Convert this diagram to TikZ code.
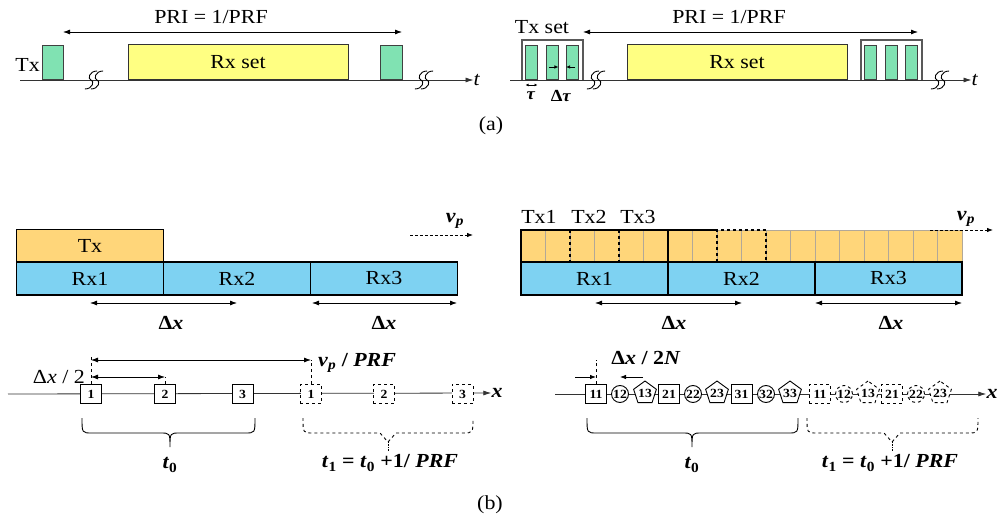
\documentclass[tikz,border=0pt]{standalone}
\usepackage{fontspec}
\setmainfont{Liberation Serif}[FakeStretch=1.1]
\usetikzlibrary{arrows.meta,positioning,shapes.geometric,calc}
\definecolor{pulsegreen}{RGB}{128,226,178}
\definecolor{rxyellow}{RGB}{255,255,130}
\definecolor{txorange}{RGB}{255,214,122}
\definecolor{rxblue}{RGB}{126,210,242}
\definecolor{cellgrey}{RGB}{178,168,152}

\begin{document}
\begin{tikzpicture}[x=1bp,y=-1bp,
  lbl/.style={font=\fontsize{20}{24}\selectfont,inner sep=0pt},
  tiny/.style={font=\fontsize{12.5}{14}\selectfont\bfseries,inner sep=0pt},
  pulse/.style={draw=black!75,fill=pulsegreen,line width=0.9pt,inner sep=0pt,
    minimum width=#1,minimum height=34bp,anchor=south},
  pulse/.default=21bp,
  rxset/.style={draw=black!80,fill=rxyellow,line width=0.9pt,lbl,
    minimum width=220bp,minimum height=35bp,anchor=south},
  txframe/.style={draw=black!65,line width=1.2pt},
  band/.style={draw=black,line width=1.3pt,lbl,minimum width=147bp,minimum height=33bp},
  dim/.style={{Latex[length=7bp,width=5bp]}-{Latex[length=7bp,width=5bp]},line width=0.8pt},
  tip/.style={-{Latex[length=6bp,width=4.5bp]},line width=0.8pt},
  lead/.style={dashed,line width=0.7pt},
  axisline/.style={-{Latex[length=8bp,width=5bp]},line width=0.8pt,black!80},
  sqmark/.style={draw,line width=0.9pt,fill=white,tiny,minimum width=21bp,minimum height=19bp},
  cimark/.style={circle,draw,line width=0.9pt,fill=white,tiny,minimum size=17bp},
  pemark/.style={regular polygon,regular polygon sides=5,draw,line width=0.9pt,fill=white,tiny,minimum size=21bp},
  pics/axbreak/.style={code={
    \foreach \d in {-3,3}
      \draw[line width=0.9pt,xshift=\d bp,xslant=0.35] (3,-9) .. controls (-5,-9) and (-4,-1) .. (0,0)
        .. controls (4,1) and (5,9) .. (-3,9);
  }}
]
  \useasboundingbox (0,0) rectangle (1002,525);

  % (a) single pulse timing
  \node[lbl] (ta) at (477,80) {\textit{t}};
  \draw[axisline] (20,80) -- (ta.west);
  \node[lbl,anchor=east] (txa) at (40,65) {Tx};
  \node[pulse] (txa1) at (52.5,80) {};
  \node[rxset] (rxa) at (238,80) {Rx set};
  \node[pulse=22bp] (txa2) at (391,80) {};
  \pic at (94,80) {axbreak};
  \pic at (424,80) {axbreak};
  \coordinate (pria) at (63,32);
  \coordinate (prib) at (402,32);
  \draw[dim] (pria) -- (prib);
  \node[lbl] (pri1) at (211,17) {PRI = 1/PRF};

  % (a) pulse set timing
  \node[lbl] (tb) at (975,80) {\textit{t}};
  \draw[axisline] (510,80) -- (tb.west);
  \foreach \s/\x in {a/522,b/861}{
    \draw[txframe] (\x,80) -- (\x,40) -- ++(61,0) -- ++(0,40);
    \foreach \k/\dx in {1/9.5,2/30,3/50.5}
      \node[pulse=12bp] (p\s\k) at (\x+\dx,80) {};
  }
  \node[lbl] (txset) at (542,27) {Tx set};
  \node[rxset] (rxb) at (737,80) {Rx set};
  \pic at (596,80) {axbreak};
  \pic at (940,80) {axbreak};
  \coordinate (tauL) at (525.5,85);
  \coordinate (tauR) at (537.5,85);
  \draw[{Latex[length=3bp,width=3bp]}-{Latex[length=3bp,width=3bp]},line width=0.6pt] (tauL) -- (tauR);
  \node[font=\fontsize{17}{20}\selectfont,inner sep=0pt] (tau) at (531,96) {\textbf{\textit{τ}}};
  \node[font=\fontsize{17}{20}\selectfont,inner sep=0pt] (dtau) at (561,96) {\textbf{Δ\textit{τ}}};
  \draw[-{Latex[length=4bp,width=3.5bp]},line width=0.7pt] (549,67) -- (pa2.east |- 0,67);
  \draw[-{Latex[length=4bp,width=3.5bp]},line width=0.7pt] (575,67) -- (pa3.west |- 0,67);
  \coordinate (pric) at (583,32);
  \coordinate (prid) at (918,32);
  \draw[dim] (pric) -- (prid);
  \node[lbl] (pri2) at (729,17) {PRI = 1/PRF};
  \node[lbl] (capa) at (491,126) {(a)};

  % (b) single aperture
  \node[band,fill=txorange] (tx) at (90,246) {Tx};
  \foreach \k/\x in {1/90,2/237,3/384}
    \node[band,fill=rxblue] (rx\k) at (\x,278.5) {Rx\k};
  \node[lbl] (vp1) at (455,221) {\textbf{\textit{v}}\textsubscript{\textbf{\textit{p}}}};
  \draw[densely dashed,tip] (410,235) -- (473,235);
  \draw[dim] (90,303) -- (237,303);
  \draw[dim] (312,303) -- (457,303);
  \node[lbl] (dx1) at (171,323) {\textbf{Δ\textit{x}}};
  \node[lbl] (dx2) at (384,323) {\textbf{Δ\textit{x}}};

  % (b) multiple sub-apertures
  \foreach \i in {0,...,17}
    \draw[cellgrey,fill=txorange,line width=0.8pt] (521+24.5*\i,230) rectangle ++(24.5,32);
  \draw[line width=1.3pt] (521,262) -- (521,230) -- (717,230);
  \draw[line width=1.6pt] (668,230) -- (668,262);
  \draw[dashed,line width=1.2pt] (570,230) -- (570,262) (619,230) -- (619,262);
  \draw[dashed,line width=1.2pt] (717,262) -- (717,230) -- (766,230) -- (766,262);
  \foreach \k/\x in {1/594.5,2/741.5,3/888.5}
    \node[band,fill=rxblue] (ry\k) at (\x,278.5) {Rx\k};
  \foreach \k/\x in {1/539,2/589,3/638}
    \node[lbl] (txl\k) at (\x,217) {Tx\k};
  \node[lbl] (vp2) at (966,219) {\textbf{\textit{v}}\textsubscript{\textbf{\textit{p}}}};
  \draw[densely dashed,tip] (930,230) -- (993,230);
  \draw[dim] (595,303) -- (742,303);
  \draw[dim] (815,303) -- (962,303);
  \node[lbl] (dx3) at (674,323) {\textbf{Δ\textit{x}}};
  \node[lbl] (dx4) at (891,323) {\textbf{Δ\textit{x}}};

  % (b) sampling positions, single aperture
  \node[lbl] (xa) at (497,393) {\textbf{\textit{x}}};
  \draw[axisline] (8,394) -- (xa.west);
  \foreach \k/\x in {1/91,2/165,3/242.5}
    \node[sqmark] (b\k) at (\x,394) {\k};
  \foreach \k/\x in {1/311,2/384,3/462.5}
    \node[sqmark,dashed] (d\k) at (\x,394) {\k};
  \draw[lead] (b1.north) -- (91,356);
  \draw[lead] (d1.north) -- (311,360);
  \draw[lead] (b2.north) -- (165,377);
  \draw[dim] (91,360) -- (311,360);
  \draw[dim] (91,377) -- (165,377);
  \node[lbl,anchor=east] (dxh) at (85,377) {Δ\textit{x} / 2};
  \node[lbl,anchor=west] (vpf) at (318,363) {\textbf{\textit{v}\textsubscript{\textit{p}} / \textit{PRF}}};
  \draw[line width=0.9pt] (82,418) .. controls (82,433) .. (92,433) -- (160,433)
    .. controls (170,433) .. (170,447) .. controls (170,433) .. (180,433) -- (245,433)
    .. controls (255,433) .. (255,418);
  \draw[lead,line width=0.9pt] (303,418) .. controls (303,433) .. (313,433) -- (380,433)
    -- (388,442) -- (396,433) -- (463,433) .. controls (473,433) .. (473,418);
  \draw[densely dotted,line width=0.7pt] (388,442) -- (388,451);
  \node[lbl] (t0a) at (170,465) {\textbf{\textit{t}\textsubscript{0}}};
  \node[lbl] (t1a) at (390,463) {\textbf{\textit{t}\textsubscript{1} = \textit{t}\textsubscript{0} +1/ \textit{PRF}}};

  % (b) sampling positions, sub-apertures
  \node[lbl] (xb) at (992,394) {\textbf{\textit{x}}};
  \draw[axisline] (555,394) -- (xb.west);
  \foreach \n/\x in {11/596,21/669,31/741.5}
    \node[sqmark] (s\n) at (\x,394) {\n};
  \foreach \n/\x in {12/620,22/693,32/766}
    \node[cimark] (s\n) at (\x,394) {\n};
  \foreach \n/\x in {13/645,23/717,33/790}
    \node[pemark] (s\n) at (\x,393) {\n};
  \foreach \n/\x in {11/820,21/892}
    \node[sqmark,dashed] (e\n) at (\x,394) {\n};
  \foreach \n/\x in {12/844,22/916}
    \node[cimark,dashed] (e\n) at (\x,394) {\n};
  \foreach \n/\x in {13/868,23/940}
    \node[pemark,dashed] (e\n) at (\x,393) {\n};
  \draw[lead] (s11.north) -- (596,360);
  \draw[tip] (575,377) -- (596,377);
  \draw[tip] (643,377) -- (s12.center |- 0,377);
  \node[lbl] (dxn) at (646,358) {\textbf{Δ\textit{x} / 2\textit{N}}};
  \draw[line width=0.9pt] (587,418) .. controls (587,433) .. (597,433) -- (682,433)
    .. controls (692,433) .. (692,447) .. controls (692,433) .. (702,433) -- (788,433)
    .. controls (798,433) .. (798,418);
  \draw[lead,line width=0.9pt] (807,418) .. controls (807,433) .. (817,433) -- (884,433)
    -- (892,442) -- (900,433) -- (968,433) .. controls (978,433) .. (978,418);
  \draw[densely dotted,line width=0.7pt] (892,442) -- (892,451);
  \node[lbl] (t0b) at (692,465) {\textbf{\textit{t}\textsubscript{0}}};
  \node[lbl] (t1b) at (890,463) {\textbf{\textit{t}\textsubscript{1} = \textit{t}\textsubscript{0} +1/ \textit{PRF}}};
  \node[lbl] (capb) at (490,505) {(b)};
\end{tikzpicture}
\end{document}
